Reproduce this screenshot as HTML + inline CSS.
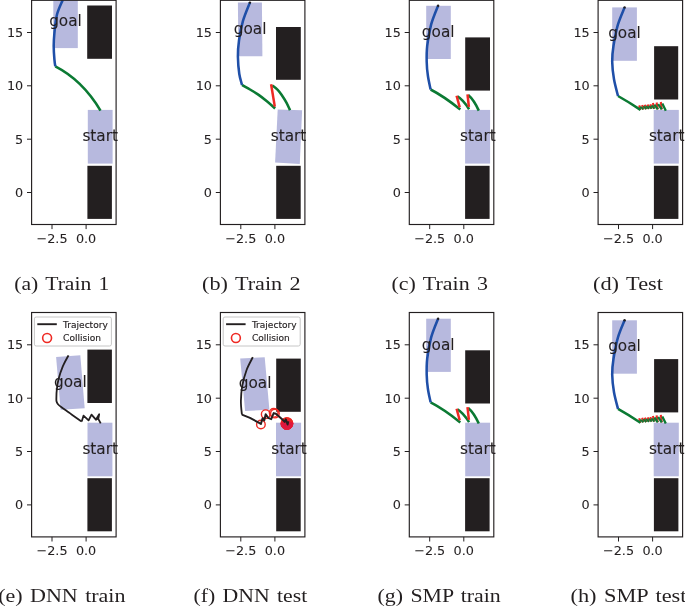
<!DOCTYPE html>
<html><head><meta charset="utf-8"><title>figure</title>
<style>
html,body{margin:0;padding:0;background:#fff;}
body{width:685px;height:607px;overflow:hidden;}
svg{display:block;}
.lg{stroke:#231f20;stroke-width:0.15px;}
.tk,.lb{stroke:#231f20;stroke-width:0.08px;}
.tk{font-family:"DejaVu Sans","Liberation Sans",sans-serif;font-size:12.8px;fill:#231f20;}
.lb{font-family:"DejaVu Sans","Liberation Sans",sans-serif;font-size:15.3px;fill:#231f20;}
.lg{font-family:"DejaVu Sans","Liberation Sans",sans-serif;font-size:9.05px;fill:#231f20;}
.cap{word-spacing:1.6px;font-family:"Liberation Serif","DejaVu Serif",serif;font-size:18.6px;fill:#231f20;}
</style></head><body>
<svg width="685" height="607" viewBox="0 0 685 607">
<defs>
<clipPath id="c00"><rect x="31.6" y="0.3" width="84.5" height="224.2"/></clipPath>
<clipPath id="c01"><rect x="220.4" y="0.3" width="84.5" height="224.2"/></clipPath>
<clipPath id="c02"><rect x="409.3" y="0.3" width="84.5" height="224.2"/></clipPath>
<clipPath id="c03"><rect x="598.1" y="0.3" width="84.5" height="224.2"/></clipPath>
<clipPath id="c10"><rect x="31.6" y="312.5" width="84.5" height="224.4"/></clipPath>
<clipPath id="c11"><rect x="220.4" y="312.5" width="84.5" height="224.4"/></clipPath>
<clipPath id="c12"><rect x="409.3" y="312.5" width="84.5" height="224.4"/></clipPath>
<clipPath id="c13"><rect x="598.1" y="312.5" width="84.5" height="224.4"/></clipPath>
</defs>
<g clip-path="url(#c00)">
<rect x="53.3" y="-5.5" width="24.5" height="53.6" fill="#b7b9de"/>
<rect x="87.2" y="5.5" width="24.8" height="53.3" fill="#231f20"/>
<rect x="87.4" y="165.8" width="24.5" height="53.1" fill="#231f20"/>
<rect x="87.8" y="109.9" width="24.8" height="53.7" fill="#b7b9de"/>
<path d="M55.3,66.4 Q82.5,80.3 100.5,110.6" fill="none" stroke="#0b7a33" stroke-width="2.55" stroke-linejoin="round" stroke-linecap="butt" />
<path d="M62.7,0.0 C61.8,2.4 58.4,9.0 57.0,14.5 C55.6,20.0 54.9,27.7 54.4,33.0 C53.9,38.3 53.7,41.7 53.7,46.1 C53.7,50.5 54.1,55.9 54.4,59.3 C54.7,62.7 55.1,65.2 55.3,66.4" fill="none" stroke="#1f4fa8" stroke-width="2.55" stroke-linejoin="round" stroke-linecap="butt" />
</g>
<text class="lb" text-anchor="middle" x="65.5" y="25.8">goal</text>
<text class="lb" text-anchor="middle" x="100.2" y="141.0">start</text>
<g clip-path="url(#c01)">
<polygon points="237.9,2.6 261.9,2.6 262.4,56.2 238.4,56.2" fill="#b7b9de"/>
<rect x="276.0" y="27.0" width="24.8" height="52.8" fill="#231f20"/>
<rect x="276.2" y="165.8" width="24.5" height="53.1" fill="#231f20"/>
<polygon points="277.7,109.5 302.1,110.3 299.8,163.9 275.1,162.6" fill="#b7b9de"/>
<path d="M242.0,84.9 C243.3,85.7 247.3,87.9 250.0,89.5 C252.7,91.1 255.0,92.4 257.9,94.4 C260.8,96.4 264.3,99.1 267.2,101.4 C270.1,103.8 273.8,107.3 275.1,108.5" fill="none" stroke="#0b7a33" stroke-width="2.55" stroke-linejoin="round" stroke-linecap="butt" />
<path d="M272.2,85.4 C273.1,86.1 276.1,88.2 277.7,89.8 C279.3,91.4 280.3,92.9 281.7,95.0 C283.1,97.1 284.9,99.8 286.3,102.3 C287.7,104.8 289.4,108.9 290.0,110.2" fill="none" stroke="#0b7a33" stroke-width="2.55" stroke-linejoin="round" stroke-linecap="butt" />
<path d="M274.8,106.6 L271.1,84.2" fill="none" stroke="#ee2a24" stroke-width="2.5" stroke-linejoin="round" stroke-linecap="butt" />
<path d="M249.9,2.6 C248.7,5.7 244.7,14.8 242.9,21.1 C241.1,27.4 239.8,34.6 239.0,40.5 C238.2,46.4 237.8,50.8 237.9,56.4 C238.0,62.0 238.6,69.2 239.3,74.0 C240.0,78.8 241.6,83.1 242.0,84.9" fill="none" stroke="#1f4fa8" stroke-width="2.55" stroke-linejoin="round" stroke-linecap="butt" />
<circle cx="249.9" cy="2.6" r="1.2" fill="#231f20"/>
</g>
<text class="lb" text-anchor="middle" x="250.1" y="33.5">goal</text>
<text class="lb" text-anchor="middle" x="288.5" y="141.0">start</text>
<g clip-path="url(#c02)">
<rect x="426.2" y="5.8" width="24.6" height="53.2" fill="#b7b9de"/>
<rect x="465.2" y="37.4" width="24.8" height="53.2" fill="#231f20"/>
<rect x="465.1" y="165.8" width="24.5" height="53.1" fill="#231f20"/>
<rect x="465.1" y="109.9" width="25.0" height="53.7" fill="#b7b9de"/>
<path d="M430.6,89.5 Q443.5,96.1 460.3,109.5" fill="none" stroke="#0b7a33" stroke-width="2.55" stroke-linejoin="round" stroke-linecap="butt" />
<path d="M457.4,96.4 Q463.2,99.8 469.1,109.2" fill="none" stroke="#0b7a33" stroke-width="2.55" stroke-linejoin="round" stroke-linecap="butt" />
<path d="M468.2,95.0 Q473.9,99.8 478.8,110.6" fill="none" stroke="#0b7a33" stroke-width="2.55" stroke-linejoin="round" stroke-linecap="butt" />
<path d="M459.7,107.4 L456.6,95.8" fill="none" stroke="#ee2a24" stroke-width="2.5" stroke-linejoin="round" stroke-linecap="butt" />
<path d="M468.9,107.0 L467.5,94.3" fill="none" stroke="#ee2a24" stroke-width="2.5" stroke-linejoin="round" stroke-linecap="butt" />
<path d="M438.1,5.8 C436.9,8.9 432.9,18.0 431.1,24.7 C429.3,31.4 427.9,39.6 427.2,45.8 C426.5,52.0 426.6,56.7 426.7,61.7 C426.8,66.7 427.2,71.2 427.9,75.8 C428.5,80.4 430.2,87.2 430.6,89.5" fill="none" stroke="#1f4fa8" stroke-width="2.55" stroke-linejoin="round" stroke-linecap="butt" />
<circle cx="438.1" cy="5.8" r="1.2" fill="#231f20"/>
</g>
<text class="lb" text-anchor="middle" x="438.2" y="36.5">goal</text>
<text class="lb" text-anchor="middle" x="477.9" y="141.0">start</text>
<g clip-path="url(#c03)">
<rect x="612.2" y="7.4" width="24.7" height="53.4" fill="#b7b9de"/>
<rect x="654.1" y="46.2" width="24.1" height="53.3" fill="#231f20"/>
<rect x="653.9" y="165.8" width="24.5" height="53.1" fill="#231f20"/>
<rect x="653.7" y="109.9" width="25.1" height="53.7" fill="#b7b9de"/>
<path d="M640.5,109.9 L639.2,105.4" fill="none" stroke="#ee2a24" stroke-width="2.1" stroke-linejoin="round" stroke-linecap="butt" />
<path d="M643.4,109.4 L642.2,104.9" fill="none" stroke="#ee2a24" stroke-width="2.1" stroke-linejoin="round" stroke-linecap="butt" />
<path d="M646.2,109.2 L644.9,104.7" fill="none" stroke="#ee2a24" stroke-width="2.1" stroke-linejoin="round" stroke-linecap="butt" />
<path d="M648.9,108.9 L647.7,104.5" fill="none" stroke="#ee2a24" stroke-width="2.1" stroke-linejoin="round" stroke-linecap="butt" />
<path d="M651.6,108.7 L650.4,104.2" fill="none" stroke="#ee2a24" stroke-width="2.1" stroke-linejoin="round" stroke-linecap="butt" />
<path d="M654.4,108.7 L652.9,103.0" fill="none" stroke="#ee2a24" stroke-width="2.1" stroke-linejoin="round" stroke-linecap="butt" />
<path d="M657.8,109.4 L656.6,102.5" fill="none" stroke="#ee2a24" stroke-width="2.1" stroke-linejoin="round" stroke-linecap="butt" />
<path d="M661.8,109.4 L660.8,102.0" fill="none" stroke="#ee2a24" stroke-width="2.1" stroke-linejoin="round" stroke-linecap="butt" />
<path d="M618.0,96.0 Q628.8,102.0 640.5,109.9" fill="none" stroke="#0b7a33" stroke-width="2.55" stroke-linejoin="round" stroke-linecap="butt" />
<path d="M640.3,106.7 L643.4,109.4" fill="none" stroke="#0b7a33" stroke-width="1.9" stroke-linejoin="round" stroke-linecap="butt" />
<path d="M643.3,106.2 L646.2,109.2" fill="none" stroke="#0b7a33" stroke-width="1.9" stroke-linejoin="round" stroke-linecap="butt" />
<path d="M646.0,106.0 L648.9,108.9" fill="none" stroke="#0b7a33" stroke-width="1.9" stroke-linejoin="round" stroke-linecap="butt" />
<path d="M648.8,105.8 L651.6,108.7" fill="none" stroke="#0b7a33" stroke-width="1.9" stroke-linejoin="round" stroke-linecap="butt" />
<path d="M651.5,105.5 L654.4,108.7" fill="none" stroke="#0b7a33" stroke-width="1.9" stroke-linejoin="round" stroke-linecap="butt" />
<path d="M654.4,104.6 L657.8,109.4" fill="none" stroke="#0b7a33" stroke-width="2.3" stroke-linejoin="round" stroke-linecap="butt" />
<path d="M658.1,104.1 L661.8,109.4" fill="none" stroke="#0b7a33" stroke-width="2.3" stroke-linejoin="round" stroke-linecap="butt" />
<path d="M662.3,103.6 L665.8,110.7" fill="none" stroke="#0b7a33" stroke-width="2.3" stroke-linejoin="round" stroke-linecap="butt" />
<path d="M624.6,7.4 C623.5,10.3 619.8,18.3 617.9,24.7 C616.0,31.1 614.5,39.6 613.5,45.8 C612.5,52.0 612.1,56.1 612.2,61.7 C612.3,67.3 613.0,73.6 614.0,79.3 C615.0,85.0 617.3,93.2 618.0,96.0" fill="none" stroke="#1f4fa8" stroke-width="2.55" stroke-linejoin="round" stroke-linecap="butt" />
<circle cx="624.6" cy="7.4" r="1.2" fill="#231f20"/>
</g>
<text class="lb" text-anchor="middle" x="624.5" y="37.9">goal</text>
<text class="lb" text-anchor="middle" x="666.7" y="141.0">start</text>
<g clip-path="url(#c10)">
<polygon points="56.1,356.9 80.3,355.3 84.7,408.2 60.6,409.8" fill="#b7b9de"/>
<rect x="87.4" y="349.6" width="24.5" height="53.4" fill="#231f20"/>
<rect x="87.4" y="478.2" width="24.5" height="53.1" fill="#231f20"/>
<rect x="87.5" y="422.7" width="24.9" height="53.6" fill="#b7b9de"/>
<path d="M68.5,355.3 C67.6,357.1 64.6,362.1 62.9,366.1 C61.2,370.1 59.5,375.4 58.5,379.3 C57.5,383.2 57.1,386.9 56.8,389.8 C56.4,392.8 56.4,395.1 56.4,397.0 C56.4,398.9 56.2,400.0 56.5,401.2 C56.8,402.4 57.2,403.3 58.0,404.3 C58.8,405.3 59.6,405.9 61.5,407.3 C63.4,408.7 65.9,410.4 69.3,412.8 C72.7,415.2 79.6,420.1 81.7,421.5" fill="none" stroke="#231f20" stroke-width="1.8" stroke-linejoin="round" stroke-linecap="butt" />
<path d="M81.7,421.5 L83.5,415.7 L88.6,420.4 L91.5,414.6 L95.9,419.7 L99.2,414.2 L98.3,418.9 L100.7,423.4" fill="none" stroke="#231f20" stroke-width="1.8" stroke-linejoin="round" stroke-linecap="butt" />
<path d="M95.9,419.7 L98.3,418.9" fill="none" stroke="#231f20" stroke-width="1.4" stroke-linejoin="round" stroke-linecap="butt" />
</g>
<text class="lb" text-anchor="middle" x="70.4" y="386.5">goal</text>
<text class="lb" text-anchor="middle" x="100.2" y="454.2">start</text>
<g clip-path="url(#c11)">
<polygon points="240.2,358.6 264.7,357.2 269.4,409.7 245.1,411.1" fill="#b7b9de"/>
<rect x="276.2" y="358.6" width="24.6" height="53.2" fill="#231f20"/>
<rect x="276.2" y="478.2" width="24.5" height="53.1" fill="#231f20"/>
<rect x="276.0" y="422.7" width="25.1" height="53.6" fill="#b7b9de"/>
<circle cx="260.9" cy="424.5" r="4.3" fill="none" stroke="#ee2a24" stroke-width="1.4"/>
<circle cx="265.7" cy="414.2" r="4.3" fill="none" stroke="#ee2a24" stroke-width="1.4"/>
<circle cx="273.7" cy="412.8" r="4.3" fill="none" stroke="#ee2a24" stroke-width="1.4"/>
<circle cx="274.9" cy="413.6" r="4.3" fill="none" stroke="#ee2a24" stroke-width="1.4"/>
<clipPath id="sf"><rect x="276.0" y="422.7" width="24.9" height="53.6"/></clipPath>
<g >
<circle cx="288.1" cy="423.4" r="4.4" fill="none" stroke="#ee2a24" stroke-width="1.6"/>
<circle cx="287.6" cy="424.3" r="4.4" fill="none" stroke="#ee2a24" stroke-width="1.6"/>
<circle cx="286.6" cy="424.6" r="4.4" fill="none" stroke="#ee2a24" stroke-width="1.6"/>
<circle cx="285.8" cy="423.9" r="4.4" fill="none" stroke="#ee2a24" stroke-width="1.6"/>
<circle cx="285.8" cy="422.9" r="4.4" fill="none" stroke="#ee2a24" stroke-width="1.6"/>
<circle cx="286.6" cy="422.2" r="4.4" fill="none" stroke="#ee2a24" stroke-width="1.6"/>
<circle cx="287.7" cy="422.5" r="4.4" fill="none" stroke="#ee2a24" stroke-width="1.6"/>
<circle cx="288.1" cy="423.4" r="4.4" fill="none" stroke="#ee2a24" stroke-width="1.6"/>
<circle cx="287.6" cy="424.4" r="4.4" fill="none" stroke="#ee2a24" stroke-width="1.6"/>
<circle cx="286.6" cy="424.6" r="4.4" fill="none" stroke="#ee2a24" stroke-width="1.6"/>
<circle cx="286.9" cy="423.4" r="4.4" fill="#ea2330"/>
</g>
<g clip-path="url(#sf)">
<circle cx="288.1" cy="423.4" r="4.4" fill="none" stroke="#e21a3a" stroke-width="1.6"/>
<circle cx="287.6" cy="424.3" r="4.4" fill="none" stroke="#e21a3a" stroke-width="1.6"/>
<circle cx="286.6" cy="424.6" r="4.4" fill="none" stroke="#e21a3a" stroke-width="1.6"/>
<circle cx="285.8" cy="423.9" r="4.4" fill="none" stroke="#e21a3a" stroke-width="1.6"/>
<circle cx="285.8" cy="422.9" r="4.4" fill="none" stroke="#e21a3a" stroke-width="1.6"/>
<circle cx="286.6" cy="422.2" r="4.4" fill="none" stroke="#e21a3a" stroke-width="1.6"/>
<circle cx="287.7" cy="422.5" r="4.4" fill="none" stroke="#e21a3a" stroke-width="1.6"/>
<circle cx="288.1" cy="423.4" r="4.4" fill="none" stroke="#e21a3a" stroke-width="1.6"/>
<circle cx="287.6" cy="424.4" r="4.4" fill="none" stroke="#e21a3a" stroke-width="1.6"/>
<circle cx="286.6" cy="424.6" r="4.4" fill="none" stroke="#e21a3a" stroke-width="1.6"/>
<circle cx="286.9" cy="423.4" r="4.4" fill="#dc1740"/>
</g>
<path d="M252.8,357.2 C251.8,359.4 248.2,365.5 246.5,370.2 C244.8,374.9 243.2,380.5 242.3,385.6 C241.4,390.7 241.0,396.2 240.9,401.0 C240.8,405.8 241.7,412.3 241.9,414.6" fill="none" stroke="#231f20" stroke-width="1.8" stroke-linejoin="round" stroke-linecap="butt" />
<path d="M241.9,414.6 L250.0,417.9 L260.9,423.9 L262.6,418.2 L264.2,420.4 L265.7,414.2 L268.2,417.9 L271.2,419.1 L273.7,413.1 L275.9,413.7 L282.1,419.3 L284.7,421.9 L285.8,419.3 L287.6,424.5 L288.3,421.2" fill="none" stroke="#231f20" stroke-width="2.0" stroke-linejoin="round" stroke-linecap="butt" />
</g>
<text class="lb" text-anchor="middle" x="255.1" y="388.3">goal</text>
<text class="lb" text-anchor="middle" x="289.0" y="454.2">start</text>
<g clip-path="url(#c12)">
<rect x="426.2" y="318.7" width="24.6" height="53.2" fill="#b7b9de"/>
<rect x="465.2" y="350.3" width="24.8" height="53.2" fill="#231f20"/>
<rect x="465.1" y="478.2" width="24.5" height="53.1" fill="#231f20"/>
<rect x="465.2" y="422.7" width="24.9" height="53.6" fill="#b7b9de"/>
<path d="M430.6,402.4 Q443.5,409.0 460.3,422.4" fill="none" stroke="#0b7a33" stroke-width="2.55" stroke-linejoin="round" stroke-linecap="butt" />
<path d="M457.4,409.3 Q463.2,412.7 469.1,422.1" fill="none" stroke="#0b7a33" stroke-width="2.55" stroke-linejoin="round" stroke-linecap="butt" />
<path d="M468.2,407.9 Q473.9,412.7 478.8,423.5" fill="none" stroke="#0b7a33" stroke-width="2.55" stroke-linejoin="round" stroke-linecap="butt" />
<path d="M459.7,420.3 L456.6,408.7" fill="none" stroke="#ee2a24" stroke-width="2.5" stroke-linejoin="round" stroke-linecap="butt" />
<path d="M468.9,419.9 L467.5,407.2" fill="none" stroke="#ee2a24" stroke-width="2.5" stroke-linejoin="round" stroke-linecap="butt" />
<path d="M438.1,318.7 C436.9,321.8 432.9,330.9 431.1,337.6 C429.3,344.3 427.9,352.5 427.2,358.7 C426.5,364.9 426.6,369.6 426.7,374.6 C426.8,379.6 427.2,384.1 427.9,388.7 C428.5,393.3 430.2,400.1 430.6,402.4" fill="none" stroke="#1f4fa8" stroke-width="2.55" stroke-linejoin="round" stroke-linecap="butt" />
<circle cx="438.1" cy="318.7" r="1.2" fill="#231f20"/>
</g>
<text class="lb" text-anchor="middle" x="438.2" y="349.7">goal</text>
<text class="lb" text-anchor="middle" x="477.9" y="454.2">start</text>
<g clip-path="url(#c13)">
<rect x="612.2" y="320.3" width="24.7" height="53.4" fill="#b7b9de"/>
<rect x="654.1" y="359.1" width="24.1" height="53.3" fill="#231f20"/>
<rect x="653.9" y="478.2" width="24.5" height="53.1" fill="#231f20"/>
<rect x="653.7" y="422.7" width="25.1" height="53.6" fill="#b7b9de"/>
<path d="M640.5,422.8 L639.2,418.3" fill="none" stroke="#ee2a24" stroke-width="2.1" stroke-linejoin="round" stroke-linecap="butt" />
<path d="M643.4,422.3 L642.2,417.8" fill="none" stroke="#ee2a24" stroke-width="2.1" stroke-linejoin="round" stroke-linecap="butt" />
<path d="M646.2,422.1 L644.9,417.6" fill="none" stroke="#ee2a24" stroke-width="2.1" stroke-linejoin="round" stroke-linecap="butt" />
<path d="M648.9,421.8 L647.7,417.4" fill="none" stroke="#ee2a24" stroke-width="2.1" stroke-linejoin="round" stroke-linecap="butt" />
<path d="M651.6,421.6 L650.4,417.1" fill="none" stroke="#ee2a24" stroke-width="2.1" stroke-linejoin="round" stroke-linecap="butt" />
<path d="M654.4,421.6 L652.9,415.9" fill="none" stroke="#ee2a24" stroke-width="2.1" stroke-linejoin="round" stroke-linecap="butt" />
<path d="M657.8,422.3 L656.6,415.4" fill="none" stroke="#ee2a24" stroke-width="2.1" stroke-linejoin="round" stroke-linecap="butt" />
<path d="M661.8,422.3 L660.8,414.9" fill="none" stroke="#ee2a24" stroke-width="2.1" stroke-linejoin="round" stroke-linecap="butt" />
<path d="M618.0,408.9 Q628.8,414.9 640.5,422.8" fill="none" stroke="#0b7a33" stroke-width="2.55" stroke-linejoin="round" stroke-linecap="butt" />
<path d="M640.3,419.6 L643.4,422.3" fill="none" stroke="#0b7a33" stroke-width="1.9" stroke-linejoin="round" stroke-linecap="butt" />
<path d="M643.3,419.1 L646.2,422.1" fill="none" stroke="#0b7a33" stroke-width="1.9" stroke-linejoin="round" stroke-linecap="butt" />
<path d="M646.0,418.9 L648.9,421.8" fill="none" stroke="#0b7a33" stroke-width="1.9" stroke-linejoin="round" stroke-linecap="butt" />
<path d="M648.8,418.7 L651.6,421.6" fill="none" stroke="#0b7a33" stroke-width="1.9" stroke-linejoin="round" stroke-linecap="butt" />
<path d="M651.5,418.4 L654.4,421.6" fill="none" stroke="#0b7a33" stroke-width="1.9" stroke-linejoin="round" stroke-linecap="butt" />
<path d="M654.4,417.5 L657.8,422.3" fill="none" stroke="#0b7a33" stroke-width="2.3" stroke-linejoin="round" stroke-linecap="butt" />
<path d="M658.1,417.0 L661.8,422.3" fill="none" stroke="#0b7a33" stroke-width="2.3" stroke-linejoin="round" stroke-linecap="butt" />
<path d="M662.3,416.5 L665.8,423.6" fill="none" stroke="#0b7a33" stroke-width="2.3" stroke-linejoin="round" stroke-linecap="butt" />
<path d="M624.6,320.3 C623.5,323.2 619.8,331.2 617.9,337.6 C616.0,344.0 614.5,352.5 613.5,358.7 C612.5,364.9 612.1,369.0 612.2,374.6 C612.3,380.2 613.0,386.5 614.0,392.2 C615.0,397.9 617.3,406.1 618.0,408.9" fill="none" stroke="#1f4fa8" stroke-width="2.55" stroke-linejoin="round" stroke-linecap="butt" />
<circle cx="624.6" cy="320.3" r="1.2" fill="#231f20"/>
</g>
<text class="lb" text-anchor="middle" x="624.5" y="351.1">goal</text>
<text class="lb" text-anchor="middle" x="666.7" y="454.2">start</text>
<rect x="31.6" y="0.3" width="84.5" height="224.2" fill="none" stroke="#231f20" stroke-width="1.15"/>
<line x1="27.0" x2="31.6" y1="32.5" y2="32.5" stroke="#231f20" stroke-width="1"/>
<text class="tk" text-anchor="end" x="23.2" y="37">15</text>
<line x1="27.0" x2="31.6" y1="85.8" y2="85.8" stroke="#231f20" stroke-width="1"/>
<text class="tk" text-anchor="end" x="23.2" y="90">10</text>
<line x1="27.0" x2="31.6" y1="139.2" y2="139.2" stroke="#231f20" stroke-width="1"/>
<text class="tk" text-anchor="end" x="23.2" y="144">5</text>
<line x1="27.0" x2="31.6" y1="192.5" y2="192.5" stroke="#231f20" stroke-width="1"/>
<text class="tk" text-anchor="end" x="23.2" y="197">0</text>
<line x1="52.0" x2="52.0" y1="224.5" y2="229.1" stroke="#231f20" stroke-width="1"/>
<text class="tk" text-anchor="middle" x="52.0" y="242.8">−2.5</text>
<line x1="86.1" x2="86.1" y1="224.5" y2="229.1" stroke="#231f20" stroke-width="1"/>
<text class="tk" text-anchor="middle" x="86.1" y="242.8">0.0</text>
<rect x="220.4" y="0.3" width="84.5" height="224.2" fill="none" stroke="#231f20" stroke-width="1.15"/>
<line x1="215.8" x2="220.4" y1="32.5" y2="32.5" stroke="#231f20" stroke-width="1"/>
<text class="tk" text-anchor="end" x="212.0" y="37">15</text>
<line x1="215.8" x2="220.4" y1="85.8" y2="85.8" stroke="#231f20" stroke-width="1"/>
<text class="tk" text-anchor="end" x="212.0" y="90">10</text>
<line x1="215.8" x2="220.4" y1="139.2" y2="139.2" stroke="#231f20" stroke-width="1"/>
<text class="tk" text-anchor="end" x="212.0" y="144">5</text>
<line x1="215.8" x2="220.4" y1="192.5" y2="192.5" stroke="#231f20" stroke-width="1"/>
<text class="tk" text-anchor="end" x="212.0" y="197">0</text>
<line x1="240.8" x2="240.8" y1="224.5" y2="229.1" stroke="#231f20" stroke-width="1"/>
<text class="tk" text-anchor="middle" x="240.8" y="242.8">−2.5</text>
<line x1="274.9" x2="274.9" y1="224.5" y2="229.1" stroke="#231f20" stroke-width="1"/>
<text class="tk" text-anchor="middle" x="274.9" y="242.8">0.0</text>
<rect x="409.3" y="0.3" width="84.5" height="224.2" fill="none" stroke="#231f20" stroke-width="1.15"/>
<line x1="404.7" x2="409.3" y1="32.5" y2="32.5" stroke="#231f20" stroke-width="1"/>
<text class="tk" text-anchor="end" x="400.9" y="37">15</text>
<line x1="404.7" x2="409.3" y1="85.8" y2="85.8" stroke="#231f20" stroke-width="1"/>
<text class="tk" text-anchor="end" x="400.9" y="90">10</text>
<line x1="404.7" x2="409.3" y1="139.2" y2="139.2" stroke="#231f20" stroke-width="1"/>
<text class="tk" text-anchor="end" x="400.9" y="144">5</text>
<line x1="404.7" x2="409.3" y1="192.5" y2="192.5" stroke="#231f20" stroke-width="1"/>
<text class="tk" text-anchor="end" x="400.9" y="197">0</text>
<line x1="429.7" x2="429.7" y1="224.5" y2="229.1" stroke="#231f20" stroke-width="1"/>
<text class="tk" text-anchor="middle" x="429.7" y="242.8">−2.5</text>
<line x1="463.8" x2="463.8" y1="224.5" y2="229.1" stroke="#231f20" stroke-width="1"/>
<text class="tk" text-anchor="middle" x="463.8" y="242.8">0.0</text>
<rect x="598.1" y="0.3" width="84.5" height="224.2" fill="none" stroke="#231f20" stroke-width="1.15"/>
<line x1="593.5" x2="598.1" y1="32.5" y2="32.5" stroke="#231f20" stroke-width="1"/>
<text class="tk" text-anchor="end" x="589.7" y="37">15</text>
<line x1="593.5" x2="598.1" y1="85.8" y2="85.8" stroke="#231f20" stroke-width="1"/>
<text class="tk" text-anchor="end" x="589.7" y="90">10</text>
<line x1="593.5" x2="598.1" y1="139.2" y2="139.2" stroke="#231f20" stroke-width="1"/>
<text class="tk" text-anchor="end" x="589.7" y="144">5</text>
<line x1="593.5" x2="598.1" y1="192.5" y2="192.5" stroke="#231f20" stroke-width="1"/>
<text class="tk" text-anchor="end" x="589.7" y="197">0</text>
<line x1="618.5" x2="618.5" y1="224.5" y2="229.1" stroke="#231f20" stroke-width="1"/>
<text class="tk" text-anchor="middle" x="618.5" y="242.8">−2.5</text>
<line x1="652.6" x2="652.6" y1="224.5" y2="229.1" stroke="#231f20" stroke-width="1"/>
<text class="tk" text-anchor="middle" x="652.6" y="242.8">0.0</text>
<rect x="31.6" y="312.5" width="84.5" height="224.4" fill="none" stroke="#231f20" stroke-width="1.15"/>
<line x1="27.0" x2="31.6" y1="344.8" y2="344.8" stroke="#231f20" stroke-width="1"/>
<text class="tk" text-anchor="end" x="23.2" y="349">15</text>
<line x1="27.0" x2="31.6" y1="398.2" y2="398.2" stroke="#231f20" stroke-width="1"/>
<text class="tk" text-anchor="end" x="23.2" y="403">10</text>
<line x1="27.0" x2="31.6" y1="451.5" y2="451.5" stroke="#231f20" stroke-width="1"/>
<text class="tk" text-anchor="end" x="23.2" y="456">5</text>
<line x1="27.0" x2="31.6" y1="504.9" y2="504.9" stroke="#231f20" stroke-width="1"/>
<text class="tk" text-anchor="end" x="23.2" y="509">0</text>
<line x1="52.0" x2="52.0" y1="536.9" y2="541.5" stroke="#231f20" stroke-width="1"/>
<text class="tk" text-anchor="middle" x="52.0" y="555.2">−2.5</text>
<line x1="86.1" x2="86.1" y1="536.9" y2="541.5" stroke="#231f20" stroke-width="1"/>
<text class="tk" text-anchor="middle" x="86.1" y="555.2">0.0</text>
<rect x="220.4" y="312.5" width="84.5" height="224.4" fill="none" stroke="#231f20" stroke-width="1.15"/>
<line x1="215.8" x2="220.4" y1="344.8" y2="344.8" stroke="#231f20" stroke-width="1"/>
<text class="tk" text-anchor="end" x="212.0" y="349">15</text>
<line x1="215.8" x2="220.4" y1="398.2" y2="398.2" stroke="#231f20" stroke-width="1"/>
<text class="tk" text-anchor="end" x="212.0" y="403">10</text>
<line x1="215.8" x2="220.4" y1="451.5" y2="451.5" stroke="#231f20" stroke-width="1"/>
<text class="tk" text-anchor="end" x="212.0" y="456">5</text>
<line x1="215.8" x2="220.4" y1="504.9" y2="504.9" stroke="#231f20" stroke-width="1"/>
<text class="tk" text-anchor="end" x="212.0" y="509">0</text>
<line x1="240.8" x2="240.8" y1="536.9" y2="541.5" stroke="#231f20" stroke-width="1"/>
<text class="tk" text-anchor="middle" x="240.8" y="555.2">−2.5</text>
<line x1="274.9" x2="274.9" y1="536.9" y2="541.5" stroke="#231f20" stroke-width="1"/>
<text class="tk" text-anchor="middle" x="274.9" y="555.2">0.0</text>
<rect x="409.3" y="312.5" width="84.5" height="224.4" fill="none" stroke="#231f20" stroke-width="1.15"/>
<line x1="404.7" x2="409.3" y1="344.8" y2="344.8" stroke="#231f20" stroke-width="1"/>
<text class="tk" text-anchor="end" x="400.9" y="349">15</text>
<line x1="404.7" x2="409.3" y1="398.2" y2="398.2" stroke="#231f20" stroke-width="1"/>
<text class="tk" text-anchor="end" x="400.9" y="403">10</text>
<line x1="404.7" x2="409.3" y1="451.5" y2="451.5" stroke="#231f20" stroke-width="1"/>
<text class="tk" text-anchor="end" x="400.9" y="456">5</text>
<line x1="404.7" x2="409.3" y1="504.9" y2="504.9" stroke="#231f20" stroke-width="1"/>
<text class="tk" text-anchor="end" x="400.9" y="509">0</text>
<line x1="429.7" x2="429.7" y1="536.9" y2="541.5" stroke="#231f20" stroke-width="1"/>
<text class="tk" text-anchor="middle" x="429.7" y="555.2">−2.5</text>
<line x1="463.8" x2="463.8" y1="536.9" y2="541.5" stroke="#231f20" stroke-width="1"/>
<text class="tk" text-anchor="middle" x="463.8" y="555.2">0.0</text>
<rect x="598.1" y="312.5" width="84.5" height="224.4" fill="none" stroke="#231f20" stroke-width="1.15"/>
<line x1="593.5" x2="598.1" y1="344.8" y2="344.8" stroke="#231f20" stroke-width="1"/>
<text class="tk" text-anchor="end" x="589.7" y="349">15</text>
<line x1="593.5" x2="598.1" y1="398.2" y2="398.2" stroke="#231f20" stroke-width="1"/>
<text class="tk" text-anchor="end" x="589.7" y="403">10</text>
<line x1="593.5" x2="598.1" y1="451.5" y2="451.5" stroke="#231f20" stroke-width="1"/>
<text class="tk" text-anchor="end" x="589.7" y="456">5</text>
<line x1="593.5" x2="598.1" y1="504.9" y2="504.9" stroke="#231f20" stroke-width="1"/>
<text class="tk" text-anchor="end" x="589.7" y="509">0</text>
<line x1="618.5" x2="618.5" y1="536.9" y2="541.5" stroke="#231f20" stroke-width="1"/>
<text class="tk" text-anchor="middle" x="618.5" y="555.2">−2.5</text>
<line x1="652.6" x2="652.6" y1="536.9" y2="541.5" stroke="#231f20" stroke-width="1"/>
<text class="tk" text-anchor="middle" x="652.6" y="555.2">0.0</text>
<rect x="34.4" y="317.0" width="77.0" height="29.0" rx="1.8" fill="#fff" fill-opacity="0.8" stroke="#c6c6c6" stroke-width="1"/>
<line x1="37.3" x2="56.8" y1="324.2" y2="324.2" stroke="#231f20" stroke-width="1.9"/>
<circle cx="47.1" cy="338.0" r="4.45" fill="none" stroke="#ee2a24" stroke-width="1.6"/>
<text class="lg" x="63.1" y="327.5">Trajectory</text>
<text class="lg" x="63.1" y="340.6">Collision</text>
<rect x="223.2" y="317.0" width="77.0" height="29.0" rx="1.8" fill="#fff" fill-opacity="0.8" stroke="#c6c6c6" stroke-width="1"/>
<line x1="226.1" x2="245.6" y1="324.2" y2="324.2" stroke="#231f20" stroke-width="1.9"/>
<circle cx="235.9" cy="338.0" r="4.45" fill="none" stroke="#ee2a24" stroke-width="1.6"/>
<text class="lg" x="251.9" y="327.5">Trajectory</text>
<text class="lg" x="251.9" y="340.6">Collision</text>
<text class="cap" x="14.3" y="289.6" textLength="95.1" lengthAdjust="spacingAndGlyphs">(a) Train 1</text>
<text class="cap" x="202.0" y="289.6" textLength="98.7" lengthAdjust="spacingAndGlyphs">(b) Train 2</text>
<text class="cap" x="391.5" y="289.6" textLength="96.5" lengthAdjust="spacingAndGlyphs">(c) Train 3</text>
<text class="cap" x="593.0" y="289.6" textLength="70.0" lengthAdjust="spacingAndGlyphs">(d) Test</text>
<text class="cap" x="-1.8" y="602.2" textLength="127.3" lengthAdjust="spacingAndGlyphs">(e) DNN train</text>
<text class="cap" x="193.5" y="602.2" textLength="113.7" lengthAdjust="spacingAndGlyphs">(f) DNN test</text>
<text class="cap" x="377.6" y="602.2" textLength="123.1" lengthAdjust="spacingAndGlyphs">(g) SMP train</text>
<text class="cap" x="570.5" y="602.2" textLength="116.0" lengthAdjust="spacingAndGlyphs">(h) SMP test</text>
</svg>
</body></html>
